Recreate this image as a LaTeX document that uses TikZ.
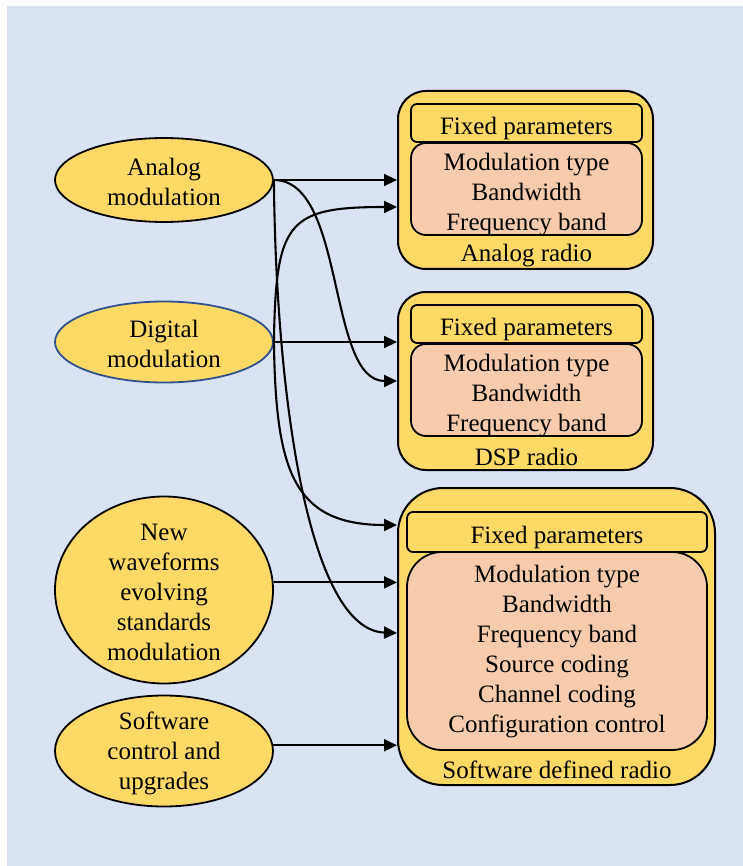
\documentclass[tikz,border=0pt]{standalone}
\usepackage{fontspec}
\setmainfont{Liberation Serif}
\usetikzlibrary{arrows.meta,shapes.geometric}

\definecolor{bgblue}{RGB}{218,227,243}
\definecolor{ovalyellow}{RGB}{255,217,102}
\definecolor{parpink}{RGB}{248,203,173}
\definecolor{ovalblue}{RGB}{47,82,143}

\begin{document}
\begin{tikzpicture}[x=1pt,y=-1pt,
  every node/.style={font=\fontsize{25}{30}\selectfont, inner sep=0pt, align=center},
  every label/.style={yshift=-2pt},
  oval/.style={ellipse, draw=black, fill=ovalyellow, line width=1.8pt, minimum width=218pt},
  radio/.style={draw=black, fill=ovalyellow, line width=2pt, rounded corners=28pt},
  fixbox/.style={draw=black, fill=ovalyellow, line width=1.8pt, rounded corners=6pt},
  parbox/.style={draw=black, fill=parpink, line width=1.8pt, rounded corners=15pt},
  link/.style={line width=2.1pt, -{Triangle[length=13pt,width=12pt]}}]
\useasboundingbox (0,0) rectangle (743,866);
\fill[bgblue] (7,6) rectangle (743,866);

% sources
\node[oval, minimum height=84pt, label={center:Analog\\modulation}] (am) at (164,180) {};
\node[oval, draw=ovalblue, minimum height=81pt, label={center:Digital\\modulation}] (dm) at (164,342) {};
\node[oval, minimum height=187pt, label={center:New\\waveforms\\evolving\\standards\\modulation}] (nw) at (164,590) {};
\node[oval, minimum height=111pt, label={center:Software\\control and\\upgrades}] (sw) at (164,751) {};

% analog radio
\node[radio, minimum width=255pt, minimum height=178pt] (ar) at (525.5,180) {};
\node[fixbox, minimum width=231pt, minimum height=38pt, label={[yshift=-3pt]center:Fixed parameters}] (arfix) at (526.5,123) {};
\node[parbox, minimum width=231pt, minimum height=92pt, label={[yshift=-4pt]center:Modulation type\\Bandwidth\\Frequency band}] (arpar) at (526.5,189) {};
\node (arname) at (526.5,256) {Analog radio};

% DSP radio
\node[radio, minimum width=255pt, minimum height=178pt] (dsp) at (525.5,381) {};
\node[fixbox, minimum width=231pt, minimum height=38pt, label={[yshift=-3pt]center:Fixed parameters}] (dspfix) at (526.5,324) {};
\node[parbox, minimum width=231pt, minimum height=92pt, label={[yshift=-4pt]center:Modulation type\\Bandwidth\\Frequency band}] (dsppar) at (526.5,390) {};
\node (dspname) at (526.5,457) {DSP radio};

% software defined radio
\node[radio, rounded corners=45pt, minimum width=317pt, minimum height=297pt] (sdr) at (556.5,636.5) {};
\node[fixbox, minimum width=300pt, minimum height=40pt, label={[yshift=-3pt]center:Fixed parameters}] (sdrfix) at (557,532) {};
\node[parbox, rounded corners=35pt, minimum width=300pt, minimum height=198pt, label={[yshift=1pt]center:Modulation type\\Bandwidth\\Frequency band\\Source coding\\Channel coding\\Configuration control}] (sdrpar) at (557,651) {};
\node (sdrname) at (557,770) {Software defined radio};

% links
\draw[link] (am.east) -- (am.east -| ar.west);
\draw[link] (am.east) .. controls +(72,0) and +(-70,0) .. (dsp.west);
\draw[link] (am.east) .. controls +(2,219) and +(-88,-3) .. ([yshift=3.5pt]sdr.west);
\draw[link] (dm.east) .. controls +(2,-120) and +(-110,0) .. ([yshift=-27pt]ar.west);
\draw[link] (dm.east) -- (dm.east -| dsp.west);
\draw[link] (dm.east) .. controls +(2,127) and +(-105,0) .. ([yshift=111.5pt]sdr.west);
\draw[link] (nw.4) -- (nw.4 -| sdr.west);
\draw[link] (sw.3) -- (sw.3 -| sdr.west);
\end{tikzpicture}
\end{document}
